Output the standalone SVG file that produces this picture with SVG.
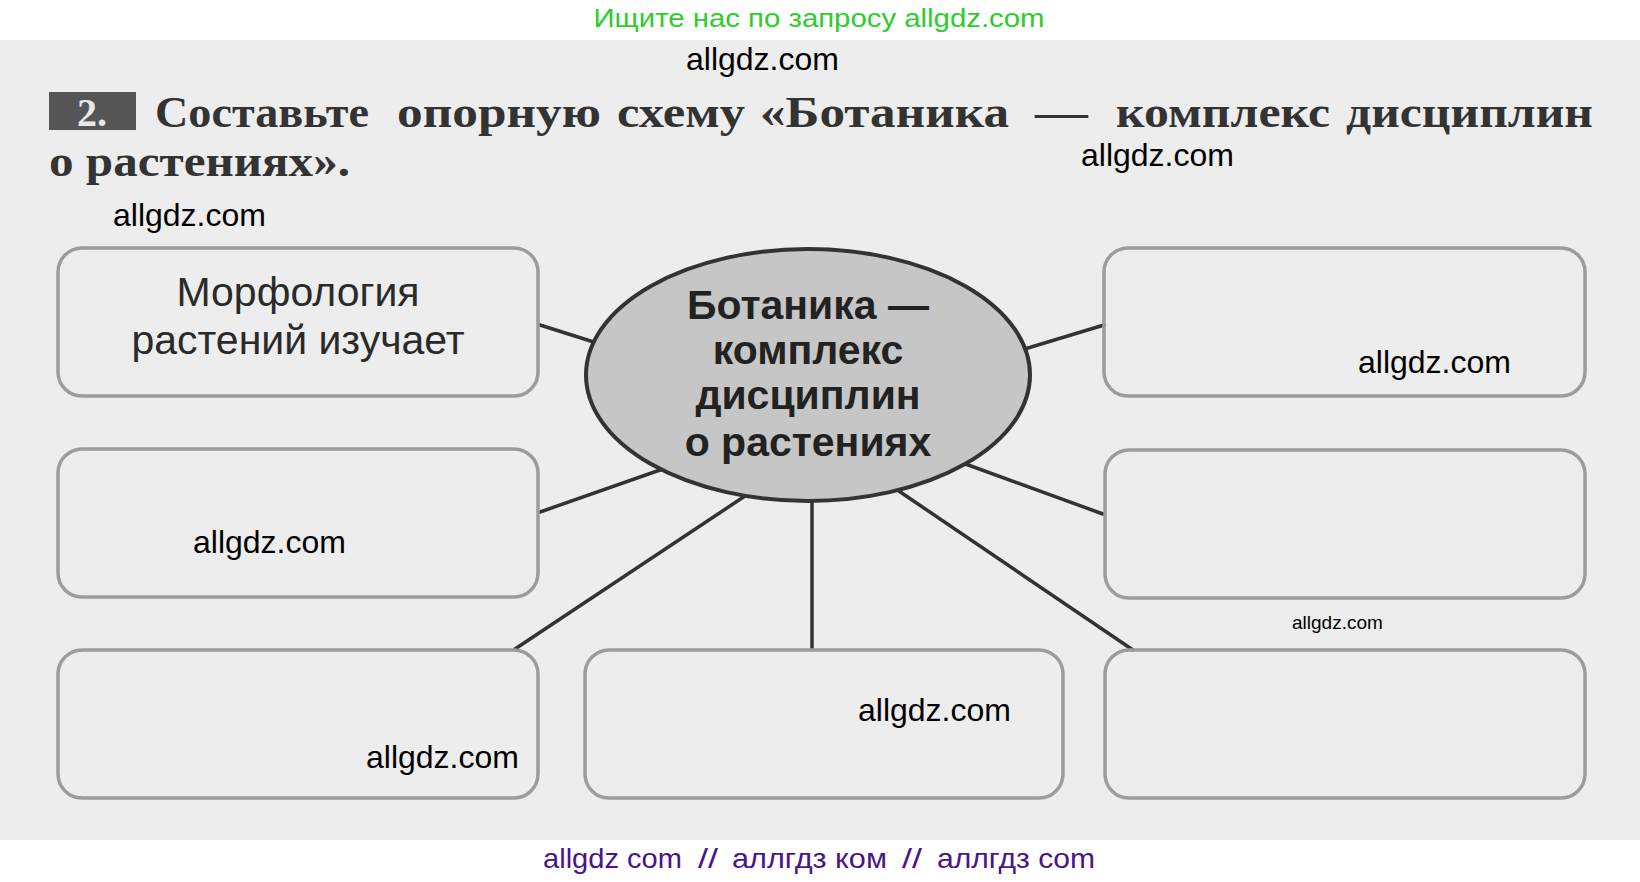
<svg xmlns="http://www.w3.org/2000/svg" width="1640" height="882" viewBox="0 0 1640 882">
<style>
.box{fill:none;stroke:#9c9c9c;stroke-width:3.5}
.con{stroke:#333;stroke-width:3.5;stroke-linecap:round}
.wm{font-family:"Liberation Sans",Arial,sans-serif;font-size:32px;fill:#000}
.wms{font-family:"Liberation Sans",Arial,sans-serif;font-size:19px;fill:#000}
.title{font-family:"Liberation Serif","Times New Roman",serif;font-size:44px;fill:#333;font-weight:bold}
.ell{font-family:"Liberation Sans",Arial,sans-serif;font-size:41px;font-weight:bold;fill:#222;text-anchor:middle}
.lbl{font-family:"Liberation Sans",Arial,sans-serif;font-size:41px;fill:#2a2a2a;text-anchor:middle}
.pur{font-family:"Liberation Sans",Arial,sans-serif;font-size:28px;fill:#4a148c}
</style>
<rect x="0" y="0" width="1640" height="882" fill="#fff"/>
<rect x="0" y="40" width="1640" height="800" fill="#ededed"/>
<text x="819" y="27" text-anchor="middle" font-family="Liberation Sans, Arial, sans-serif" font-size="26" fill="#2ecc2e" textLength="451" lengthAdjust="spacingAndGlyphs">Ищите нас по запросу allgdz.com</text>
<g id="title">
<rect x="49" y="92" width="87" height="38" fill="#555"/>
<text x="92" y="126" text-anchor="middle" font-family="Liberation Serif, serif" font-size="40" font-weight="bold" fill="#e8e8e8">2.</text>
<text class="title" x="155" y="127" textLength="214" lengthAdjust="spacingAndGlyphs">Составьте</text>
<text class="title" x="397" y="127" textLength="204" lengthAdjust="spacingAndGlyphs">опорную</text>
<text class="title" x="617" y="127" textLength="128" lengthAdjust="spacingAndGlyphs">схему</text>
<text class="title" x="760" y="127" textLength="249" lengthAdjust="spacingAndGlyphs">«Ботаника</text>
<text class="title" x="1035" y="127" textLength="53" lengthAdjust="spacingAndGlyphs">—</text>
<text class="title" x="1116" y="127" textLength="214" lengthAdjust="spacingAndGlyphs">комплекс</text>
<text class="title" x="1346" y="127" textLength="247" lengthAdjust="spacingAndGlyphs">дисциплин</text>
<text class="title" x="49" y="176" textLength="301" lengthAdjust="spacingAndGlyphs">о растениях».</text>
</g>
<g id="connectors">
<line class="con" x1="540" y1="325" x2="600" y2="344"/>
<line class="con" x1="540" y1="512" x2="680" y2="463"/>
<line class="con" x1="515" y1="649" x2="745" y2="496"/>
<line class="con" x1="812" y1="490" x2="812" y2="649"/>
<line class="con" x1="890" y1="485" x2="1133" y2="650"/>
<line class="con" x1="960" y1="462" x2="1103" y2="514"/>
<line class="con" x1="1015" y1="352" x2="1104" y2="325"/>
</g>
<g id="box-tl"><rect class="box" x="58" y="248" width="480" height="148" rx="24"/>
<text class="lbl" x="298" y="306">Морфология</text>
<text class="lbl" x="298" y="354">растений изучает</text></g>
<g id="box-ml"><rect class="box" x="58" y="449" width="480" height="148" rx="24"/></g>
<g id="box-bl"><rect class="box" x="58" y="650" width="480" height="148" rx="24"/></g>
<g id="box-bm"><rect class="box" x="585" y="650" width="478" height="148" rx="24"/></g>
<g id="box-br"><rect class="box" x="1105" y="650" width="480" height="148" rx="24"/></g>
<g id="box-mr"><rect class="box" x="1105" y="450" width="480" height="148" rx="24"/></g>
<g id="box-tr"><rect class="box" x="1104" y="248" width="481" height="148" rx="24"/></g>
<g id="center">
<ellipse cx="808" cy="375" rx="222" ry="126" fill="#c6c6c6" stroke="#333" stroke-width="4"/>
<text class="ell" x="808" y="319">Ботаника —</text>
<text class="ell" x="808" y="364">комплекс</text>
<text class="ell" x="808" y="409">дисциплин</text>
<text class="ell" x="808" y="456">о растениях</text>
</g>
<g id="watermarks">
<text class="wm" x="686" y="70">allgdz.com</text>
<text class="wm" x="1081" y="166">allgdz.com</text>
<text class="wm" x="113" y="226">allgdz.com</text>
<text class="wm" x="1358" y="373">allgdz.com</text>
<text class="wm" x="193" y="553">allgdz.com</text>
<text class="wms" x="1292" y="629">allgdz.com</text>
<text class="wm" x="858" y="721">allgdz.com</text>
<text class="wm" x="366" y="768">allgdz.com</text>
</g>
<g id="footer">
<text class="pur" x="543" y="868" textLength="139" lengthAdjust="spacingAndGlyphs">allgdz com</text>
<text class="pur" x="698" y="868" textLength="20" lengthAdjust="spacingAndGlyphs">//</text>
<text class="pur" x="732" y="868" textLength="155" lengthAdjust="spacingAndGlyphs">аллгдз ком</text>
<text class="pur" x="902" y="868" textLength="20" lengthAdjust="spacingAndGlyphs">//</text>
<text class="pur" x="937" y="868" textLength="158" lengthAdjust="spacingAndGlyphs">аллгдз com</text>
</g>
</svg>
